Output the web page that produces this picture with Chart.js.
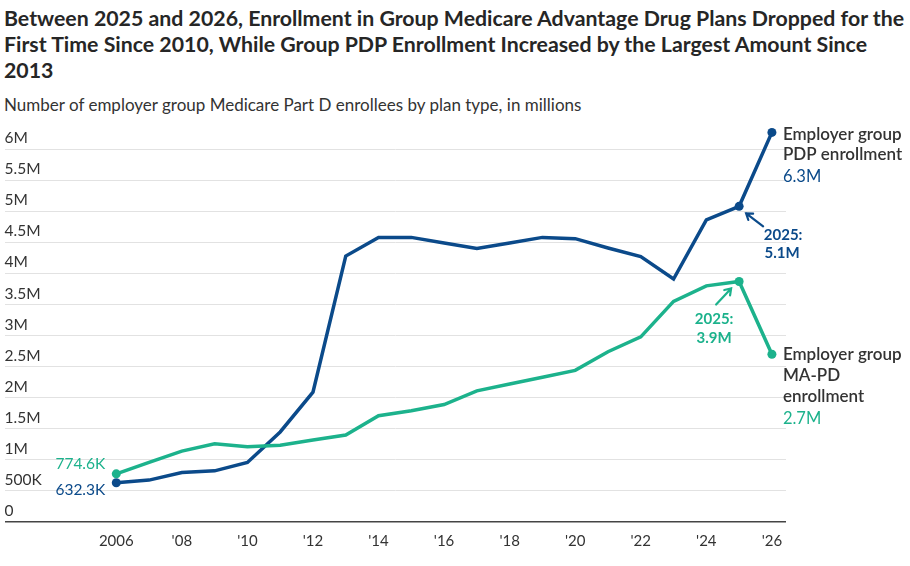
<!DOCTYPE html>
<html>
<head>
<meta charset="utf-8">
<script src="https://cdn.jsdelivr.net/npm/chart.js@4"></script>
<style>
  body { margin: 0; background: #fff; font-family: Lato, sans-serif; color: #333; }
  #wrap { position: relative; width: 910px; height: 566px; overflow: hidden; }
  #title { position: absolute; left: 4px; top: 5px; width: 906px; font-weight: 700; font-size: 21.3px; line-height: 26px; color: #262626; }
  #sub { position: absolute; left: 4px; top: 94px; font-size: 17px; color: #333; }
  #c { position: absolute; left: 0; top: 115px; }
</style>
</head>
<body>
<div id="wrap">
  <div id="title">Between 2025 and 2026, Enrollment in Group Medicare Advantage Drug Plans Dropped for the<br>First Time Since 2010, While Group PDP Enrollment Increased by the Largest Amount Since<br>2013</div>
  <div id="sub">Number of employer group Medicare Part D enrollees by plan type, in millions</div>
  <canvas id="c" width="910" height="451"></canvas>
</div>
<script>
// data, in millions of enrollees
var years = [2006, 2007, 2008, 2009, 2010, 2011, 2012, 2013, 2014, 2015, 2016,
             2017, 2018, 2019, 2020, 2021, 2022, 2023, 2024, 2025, 2026];
var pdpValues = [0.6323, 0.674, 0.797, 0.823, 0.958, 1.449, 2.09, 4.28, 4.58, 4.58, 4.49,
                 4.40, 4.49, 4.58, 4.56, 4.41, 4.27, 3.91, 4.86, 5.08, 6.27];
var mapdValues = [0.7746, 0.96, 1.14, 1.26, 1.21, 1.235, 1.32, 1.40, 1.71, 1.79, 1.89,
                  2.11, 2.22, 2.33, 2.44, 2.74, 2.98, 3.55, 3.80, 3.87, 2.70];
var xTickYears = [2006, 2008, 2010, 2012, 2014, 2016, 2018, 2020, 2022, 2024, 2026];
var yTickValues = [0, 0.5, 1, 1.5, 2, 2.5, 3, 3.5, 4, 4.5, 5, 5.5, 6];
var yTickLabels = ['0', '500K', '1M', '1.5M', '2M', '2.5M', '3M', '3.5M', '4M', '4.5M', '5M', '5.5M', '6M'];

var BLUE = '#0b4a8a';
var GREEN = '#1cb28c';
var FONT = 'Lato, sans-serif';

function pts(vals) {
  return vals.map(function (v, i) { return { x: years[i], y: v }; });
}
function dotRadius(ctx) {
  var i = ctx.dataIndex;
  return (i === 0 || i === years.length - 2 || i === years.length - 1) ? 4.5 : 0;
}

// labels + arrows drawn from the scales
var notes = {
  id: 'notes',
  afterDatasetsDraw: function (chart) {
    var c = chart.ctx, xs = chart.scales.x, ys = chart.scales.y;
    var last = years.length - 1;
    function px(i) { return xs.getPixelForValue(years[i]); }
    function txt(s, x, y, color, font, align) {
      c.fillStyle = color; c.font = font; c.textAlign = align; c.textBaseline = 'middle';
      c.fillText(s, x, y);
    }
    function arrow(x1, y1, x2, y2, color) {
      var a = Math.atan2(y2 - y1, x2 - x1), h = 7;
      c.strokeStyle = color; c.lineWidth = 2.2; c.lineCap = 'round';
      c.beginPath(); c.moveTo(x1, y1); c.lineTo(x2, y2);
      c.moveTo(x2 - h * Math.cos(a - 0.6), y2 - h * Math.sin(a - 0.6));
      c.lineTo(x2, y2);
      c.lineTo(x2 - h * Math.cos(a + 0.6), y2 - h * Math.sin(a + 0.6));
      c.stroke();
    }
    c.save();
    // start values
    var x0 = px(0);
    txt('774.6K', x0 - 11, ys.getPixelForValue(mapdValues[0]) - 10, GREEN, '15.5px ' + FONT, 'right');
    txt('632.3K', x0 - 11, ys.getPixelForValue(pdpValues[0]) + 7, BLUE, '15.5px ' + FONT, 'right');

    // end labels
    var xe = px(last) + 11;
    var yb = ys.getPixelForValue(pdpValues[last]);
    txt('Employer group', xe, yb + 2, '#333', '600 17px ' + FONT, 'left');
    txt('PDP enrollment', xe, yb + 22, '#333', '600 17px ' + FONT, 'left');
    txt(pdpValues[last].toFixed(1) + 'M', xe, yb + 44, BLUE, '16.5px ' + FONT, 'left');
    var yg = ys.getPixelForValue(mapdValues[last]);
    txt('Employer group', xe, yg, '#333', '600 17px ' + FONT, 'left');
    txt('MA-PD', xe, yg + 21, '#333', '600 17px ' + FONT, 'left');
    txt('enrollment', xe, yg + 42, '#333', '600 17px ' + FONT, 'left');
    txt(mapdValues[last].toFixed(1) + 'M', xe, yg + 64, GREEN, '16.5px ' + FONT, 'left');

    // 2025 callouts
    var x25 = px(last - 1);
    var yb25 = ys.getPixelForValue(pdpValues[last - 1]);
    arrow(x25 + 24, yb25 + 20, x25 + 7, yb25 + 7, BLUE);
    txt('2025:', x25 + 44, yb25 + 29, BLUE, 'bold 15px ' + FONT, 'center');
    txt(pdpValues[last - 1].toFixed(1) + 'M', x25 + 43, yb25 + 47, BLUE, 'bold 15px ' + FONT, 'center');
    var yg25 = ys.getPixelForValue(mapdValues[last - 1]);
    arrow(x25 - 23, yg25 + 23, x25 - 8, yg25 + 7, GREEN);
    txt('2025:', x25 - 25, yg25 + 38, GREEN, 'bold 15px ' + FONT, 'center');
    txt(mapdValues[last - 1].toFixed(1) + 'M', x25 - 25, yg25 + 57, GREEN, 'bold 15px ' + FONT, 'center');
    c.restore();
  }
};

new Chart(document.getElementById('c'), {
  type: 'line',
  data: {
    datasets: [{
      label: 'Employer group MA-PD enrollment',
      data: pts(mapdValues),
      borderColor: GREEN,
      backgroundColor: GREEN,
      borderWidth: 3.5,
      pointRadius: dotRadius,
      pointBorderWidth: 0,
      pointBackgroundColor: GREEN,
      clip: false
    }, {
      label: 'Employer group PDP enrollment',
      data: pts(pdpValues),
      borderColor: BLUE,
      backgroundColor: BLUE,
      borderWidth: 3.5,
      pointRadius: dotRadius,
      pointBorderWidth: 0,
      pointBackgroundColor: BLUE,
      clip: false
    }]
  },
  options: {
    responsive: false,
    animation: false,
    layout: { padding: { left: 3, right: 124, top: 8, bottom: 6 } },
    plugins: { legend: { display: false }, tooltip: { enabled: false } },
    scales: {
      x: {
        type: 'linear',
        min: 2002.59,
        max: 2026.43,
        afterBuildTicks: function (axis) {
          axis.ticks = xTickYears.map(function (v) { return { value: v }; });
        },
        grid: { display: false, drawTicks: false },
        border: { display: false },
        ticks: {
          autoSkip: false,
          maxRotation: 0,
          padding: 10,
          color: '#333',
          font: { family: FONT, size: 15 },
          callback: function (v) { return v === xTickYears[0] ? String(v) : "'" + String(v).slice(2); }
        }
      },
      y: {
        min: 0,
        max: 6.4,
        afterBuildTicks: function (axis) {
          axis.ticks = yTickValues.map(function (v) { return { value: v }; });
        },
        grid: {
          drawTicks: false,
          color: function (ctx) { return ctx.tick && ctx.tick.value === 0 ? '#444' : '#e2e2e2'; },
          lineWidth: function (ctx) { return ctx.tick && ctx.tick.value === 0 ? 1.5 : 1; }
        },
        border: { display: false },
        ticks: {
          mirror: true,
          padding: 0,
          labelOffset: -11,
          color: '#333',
          font: { family: FONT, size: 15.5 },
          callback: function (v) { return yTickLabels[yTickValues.indexOf(v)]; }
        }
      }
    }
  },
  plugins: [notes]
});
</script>
</body>
</html>
